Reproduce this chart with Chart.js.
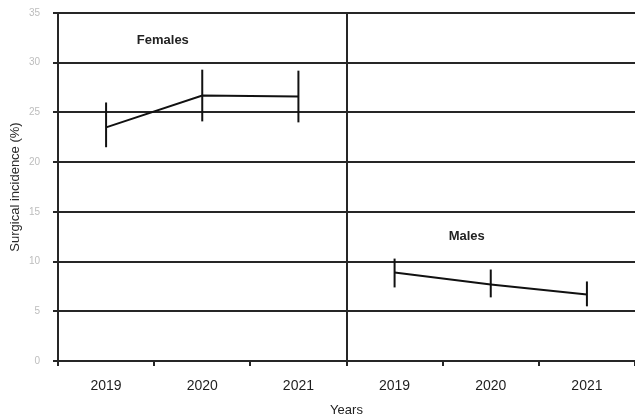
<!DOCTYPE html>
<html>
<head>
<meta charset="utf-8">
<script src="https://cdn.jsdelivr.net/npm/chart.js@4.4.1/dist/chart.umd.min.js"></script>
<style>
  html, body { margin: 0; padding: 0; background: #fff; }
  #wrap { width: 635px; height: 415px; }
</style>
</head>
<body>
<div id="wrap"><canvas id="myChart" width="635" height="415"></canvas></div>
<script>
const categories = ['2019', '2020', '2021', '2019', '2020', '2021'];

// incidence (%)
const females = [23.5, 26.7, 26.6, null, null, null];
const femalesLow = [21.5, 24.1, 24.0, null, null, null];
const femalesHigh = [26.0, 29.3, 29.2, null, null, null];

const males = [null, null, null, 8.9, 7.7, 6.7];
const malesLow = [null, null, null, 7.4, 6.4, 5.5];
const malesHigh = [null, null, null, 10.3, 9.2, 8.0];

const yTicks = [0, 5, 10, 15, 20, 25, 30, 35];

// group labels, placed in data units (category index, value)
const groupLabels = [
  { text: 'Females', x: 0.59, y: 32.2 },
  { text: 'Males', x: 3.75, y: 12.5 }
];

const dark = '#262626';
const font = '"Liberation Sans", Arial, sans-serif';

// draws the vertical error bars through the scales
const errorBars = {
  id: 'errorBars',
  afterDatasetsDraw(chart) {
    const c = chart.ctx;
    const xs = chart.scales.x, ys = chart.scales.y;
    const sets = [[femalesLow, femalesHigh], [malesLow, malesHigh]];
    c.save();
    c.strokeStyle = '#111';
    c.lineWidth = 2;
    sets.forEach(function (s) {
      for (let i = 0; i < categories.length; i++) {
        if (s[0][i] == null) continue;
        const px = xs.getPixelForValue(i);
        c.beginPath();
        c.moveTo(px, ys.getPixelForValue(s[0][i]));
        c.lineTo(px, ys.getPixelForValue(s[1][i]));
        c.stroke();
      }
    });
    c.restore();
  }
};

const labelsPlugin = {
  id: 'groupLabels',
  afterDraw(chart) {
    const c = chart.ctx;
    const xs = chart.scales.x, ys = chart.scales.y;
    c.save();
    c.fillStyle = '#222';
    c.font = 'bold 13px ' + font;
    c.textAlign = 'center';
    c.textBaseline = 'middle';
    groupLabels.forEach(function (l) {
      c.fillText(l.text, xs.getPixelForValue(l.x), ys.getPixelForValue(l.y));
    });
    c.restore();
  }
};

function lineSet(label, data) {
  return {
    label: label,
    data: data,
    borderColor: '#111',
    borderWidth: 2,
    pointRadius: 0,
    spanGaps: false,
    tension: 0
  };
}

new Chart(document.getElementById('myChart'), {
  type: 'line',
  data: {
    labels: categories,
    datasets: [lineSet('Females', females), lineSet('Males', males)]
  },
  options: {
    responsive: false,
    animation: false,
    layout: { padding: { top: 13, right: 0, left: 0, bottom: 0 } },
    plugins: { legend: { display: false }, tooltip: { enabled: false } },
    scales: {
      x: {
        offset: true,
        grid: {
          offset: true,
          drawOnChartArea: true,
          color: ctx => ctx.index === 3 ? dark : 'rgba(0,0,0,0)',
          tickColor: dark,
          lineWidth: 2,
          tickLength: 5
        },
        border: { color: dark, width: 2 },
        ticks: {
          color: '#1e1e1e',
          font: { size: 14, family: font },
          padding: 12,
          maxRotation: 0
        },
        title: {
          display: true,
          text: 'Years',
          color: '#222',
          font: { size: 13, family: font },
          padding: { top: 4, bottom: -3 }
        },
        afterFit: function (scale) {
          scale.height = 54;
          scale.paddingLeft = 0;
          scale.paddingRight = 0;
        }
      },
      y: {
        min: 0,
        max: 35,
        afterBuildTicks: function (scale) {
          scale.ticks = yTicks.map(v => ({ value: v }));
        },
        grid: { color: dark, lineWidth: 2, tickLength: 5 },
        border: { color: dark, width: 2 },
        ticks: {
          color: '#bdbdbd',
          font: { size: 10, family: font },
          padding: 13
        },
        title: {
          display: true,
          text: 'Surgical incidence (%)',
          color: '#2a2a2a',
          font: { size: 13, family: font },
          padding: { top: 8, bottom: 4 }
        },
        afterFit: function (scale) {
          scale.width = 58;
          scale.paddingTop = 0;
          scale.paddingBottom = 0;
        }
      }
    }
  },
  plugins: [errorBars, labelsPlugin]
});
</script>
</body>
</html>
